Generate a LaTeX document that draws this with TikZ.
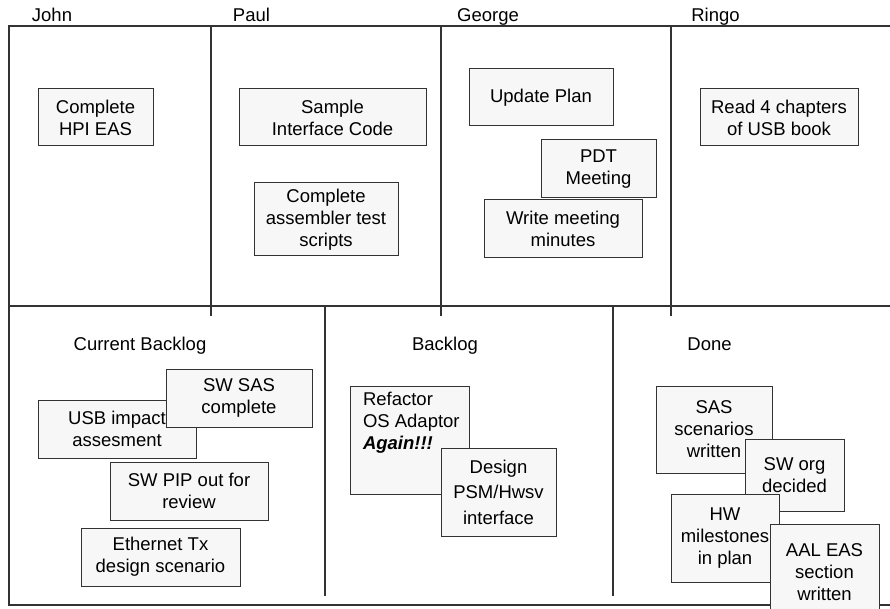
\documentclass[tikz,border=0pt]{standalone}
\usepackage{fontspec}
\setmainfont{Liberation Sans}
\usetikzlibrary{positioning}

\tikzset{
  frame/.style={draw=black!80, line width=1.2pt},
  colhead/.style={font=\fontsize{18.5}{22}\selectfont, inner sep=0pt, anchor=base},
  note/.style={draw=black!80, fill=black!3, line width=1pt, align=center, inner sep=2pt,
    font=\fontsize{18.5}{22}\selectfont},
  notesize/.style 2 args={minimum width=#1pt, minimum height=#2pt},
  loose/.style={font=\fontsize{18.5}{25.5}\selectfont}
}

\begin{document}
\begin{tikzpicture}[x=1pt,y=-1pt]
  \useasboundingbox (0,0) rectangle (890,609);

  % board
  \draw[frame] (890,26) -| (9,605) -- (890,605);
  \draw[frame] (9,306) -- (890,306);
  \foreach \x in {211,441,671}
    \draw[frame] (\x,26) -- (\x,316);
  \foreach \x in {325,613}
    \draw[frame] (\x,306) -- (\x,596);

  \node[colhead] (john) at (52,22) {John};
  \node[colhead] (paul) at (251.5,22) {Paul};
  \node[colhead] (george) at (488,22) {George};
  \node[colhead] (ringo) at (715.5,22) {Ringo};
  \node[colhead] (current) at (140,350) {Current Backlog};
  \node[colhead] (backlog) at (445,350) {Backlog};
  \node[colhead] (done) at (709.5,350) {Done};

  % in progress
  \node[note, notesize={115}{57}] (hpi) at (95.5,117.5) {Complete\\HPI EAS};
  \node[note, notesize={187}{57}] (sample) at (332.5,117.5) {Sample\\Interface Code};
  \node[note, notesize={144}{73}, below=36pt of sample, xshift=-6.5pt] (assembler) {Complete\\assembler test\\scripts};
  \node[note, notesize={144}{57}] (update) at (541,97.5) {Update Plan};
  \node[note, notesize={115}{58}] (pdt) at (598.5,169) {PDT\\Meeting};
  \node[note, notesize={158}{58}, below=1pt of pdt, xshift=-35.5pt] (minutes) {Write meeting\\minutes};
  \node[note, notesize={158}{57}] (usbbook) at (779,117.5) {Read 4 chapters\\of USB book};

  % backlogs
  \node[note, notesize={158}{58}] (usb) at (117,429) {USB impact\\assesment};
  \node[note, notesize={146}{58}] (swsas) at (239,398) {SW SAS\\complete};
  \node[note, notesize={158}{58}, below=3pt of usb, xshift=72pt] (pip) {SW PIP out for\\review};
  \node[note, notesize={159}{58}, below=7pt of pip, xshift=-28.5pt] (eth) {Ethernet Tx\\design scenario};
  \node[note, notesize={119}{108}] (refactor) at (409.5,440) {};
  \node[note, draw=none, fill=none, inner sep=0pt, align=left, below right=6.5pt and 13pt of refactor.north west] (refactortxt) {Refactor\\OS Adaptor\\\textbf{\textit{Again!!!}}};
  \node[note, loose, notesize={115}{88}] (design) at (498.5,492) {Design\\PSM/Hwsv\\interface};

  % done
  \node[note, notesize={116}{87}] (sasdone) at (714,429.5) {SAS\\scenarios\\written};
  \node[note, notesize={99}{72}] (org) at (794.5,475) {SW org\\decided};
  \node[note, notesize={108}{88}] (hw) at (725,538) {HW\\milestones\\in plan};
  \node[note, notesize={109}{96}] (aal) at (824.5,572) {AAL EAS\\section\\written};
\end{tikzpicture}
\end{document}
